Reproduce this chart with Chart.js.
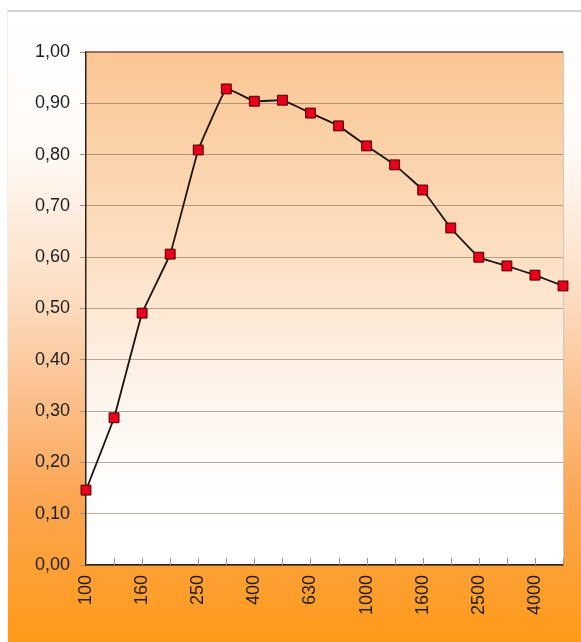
<!DOCTYPE html>
<html>
<head>
<meta charset="utf-8">
<script src="https://cdn.jsdelivr.net/npm/chart.js@4"></script>
<style>
  html, body { margin: 0; padding: 0; background: #fff; }
  #wrap { width: 581px; height: 642px; }
</style>
</head>
<body>
<div id="wrap"><canvas id="chart" width="581" height="642"></canvas></div>
<script>
const freqs = ['100', '125', '160', '200', '250', '315', '400', '500', '630', '800',
               '1000', '1250', '1600', '2000', '2500', '3150', '4000', '5000'];
const absorption = [0.146, 0.287, 0.491, 0.606, 0.809, 0.928, 0.904, 0.906, 0.881, 0.856,
                    0.817, 0.780, 0.731, 0.657, 0.600, 0.583, 0.565, 0.544];
const yTicks = [0, 0.1, 0.2, 0.3, 0.4, 0.5, 0.6, 0.7, 0.8, 0.9, 1.0];

// background: outer frame + plot area gradients, borders, inner x ticks
const excelLook = {
  id: 'excelLook',
  beforeDraw(chart) {
    const { ctx, chartArea: a, width, height } = chart;
    ctx.save();
    ctx.fillStyle = '#fff';
    ctx.fillRect(0, 0, width, height);
    const g = ctx.createLinearGradient(0, 10, 0, height);
    g.addColorStop(0, '#ffffff');
    g.addColorStop(0.22, '#fffaf6');
    g.addColorStop(0.46, '#fcdcc0');
    g.addColorStop(0.62, '#fbbf8a');
    g.addColorStop(0.78, '#fba550');
    g.addColorStop(1, '#ff9a18');
    ctx.fillStyle = g;
    ctx.fillRect(7, 10, width - 7, height - 10);
    ctx.strokeStyle = '#d4d4d4';
    ctx.lineWidth = 2;
    ctx.beginPath();
    ctx.moveTo(7, 11); ctx.lineTo(width, 11);
    ctx.stroke();
    ctx.strokeStyle = '#ececec';
    ctx.lineWidth = 1;
    ctx.beginPath();
    ctx.moveTo(7.5, 11); ctx.lineTo(7.5, height);
    ctx.stroke();

    const p = ctx.createLinearGradient(0, a.top, 0, a.bottom);
    p.addColorStop(0, '#fac693');
    p.addColorStop(0.35, '#fcdcbc');
    p.addColorStop(0.65, '#fef3ea');
    p.addColorStop(0.88, '#ffffff');
    p.addColorStop(1, '#ffffff');
    ctx.fillStyle = p;
    ctx.fillRect(a.left, a.top, a.right - a.left, a.bottom - a.top);
    ctx.restore();
  },
  beforeDatasetsDraw(chart) {
    const { ctx, chartArea: a, scales } = chart;
    ctx.save();
    // top and right borders
    ctx.lineWidth = 1.5;
    ctx.strokeStyle = '#6b4c33';
    ctx.beginPath();
    ctx.moveTo(a.left, a.top); ctx.lineTo(a.right, a.top);
    ctx.stroke();
    ctx.strokeStyle = '#cfc6be';
    ctx.lineWidth = 1;
    ctx.beginPath();
    ctx.moveTo(a.right + 0.5, a.top); ctx.lineTo(a.right + 0.5, a.bottom);
    ctx.stroke();
    // x ticks pointing into the plot
    ctx.strokeStyle = '#9a948e';
    ctx.lineWidth = 1;
    freqs.forEach((f, i) => {
      const x = Math.round(scales.x.getPixelForValue(i)) + 0.5;
      ctx.beginPath();
      ctx.moveTo(x, a.bottom); ctx.lineTo(x, a.bottom - 7);
      ctx.stroke();
    });
    ctx.restore();
  }
};

new Chart(document.getElementById('chart'), {
  type: 'line',
  data: {
    labels: freqs,
    datasets: [{
      data: absorption,
      borderColor: '#1c1410',
      borderWidth: 1.8,
      tension: 0.08,
      pointStyle: 'rect',
      pointRadius: 7,
      pointHoverRadius: 7,
      pointBackgroundColor: '#e8001c',
      pointBorderColor: '#4a0000',
      pointBorderWidth: 1,
      clip: false
    }]
  },
  options: {
    responsive: false,
    animation: false,
    layout: { padding: { top: 52, right: 18, left: 0, bottom: 0 } },
    plugins: { legend: { display: false }, tooltip: { enabled: false } },
    scales: {
      x: {
        offset: false,
        afterFit(scale) { scale.height = 77; scale.paddingRight = 0; scale.paddingLeft = 0; },
        grid: { display: false, drawTicks: false },
        border: { display: true, color: '#2e2218', width: 1.5 },
        ticks: {
          autoSkip: false,
          minRotation: 90,
          maxRotation: 90,
          padding: 10,
          color: '#1e1e1e',
          font: { family: 'Liberation Sans, Arial, sans-serif', size: 18 },
          callback: (v, i) => (i % 2 === 0 ? freqs[i] : '')
        }
      },
      y: {
        min: 0,
        max: 1,
        afterFit(scale) { scale.width = 86; scale.paddingTop = 0; scale.paddingBottom = 0; },
        afterBuildTicks(scale) { scale.ticks = yTicks.map(v => ({ value: v })); },
        grid: {
          color: ctx => (ctx.tick && ctx.tick.value === 1 ? 'rgba(0,0,0,0)' : 'rgba(95,75,55,0.45)'),
          tickColor: '#9a948e',
          tickLength: 6,
          lineWidth: 1
        },
        border: { display: true, color: '#2e2218', width: 1.5 },
        ticks: {
          padding: 10,
          color: '#1e1e1e',
          font: { family: 'Liberation Sans, Arial, sans-serif', size: 18 },
          callback: v => v.toFixed(2).replace('.', ',')
        }
      }
    }
  },
  plugins: [excelLook]
});
</script>
</body>
</html>
